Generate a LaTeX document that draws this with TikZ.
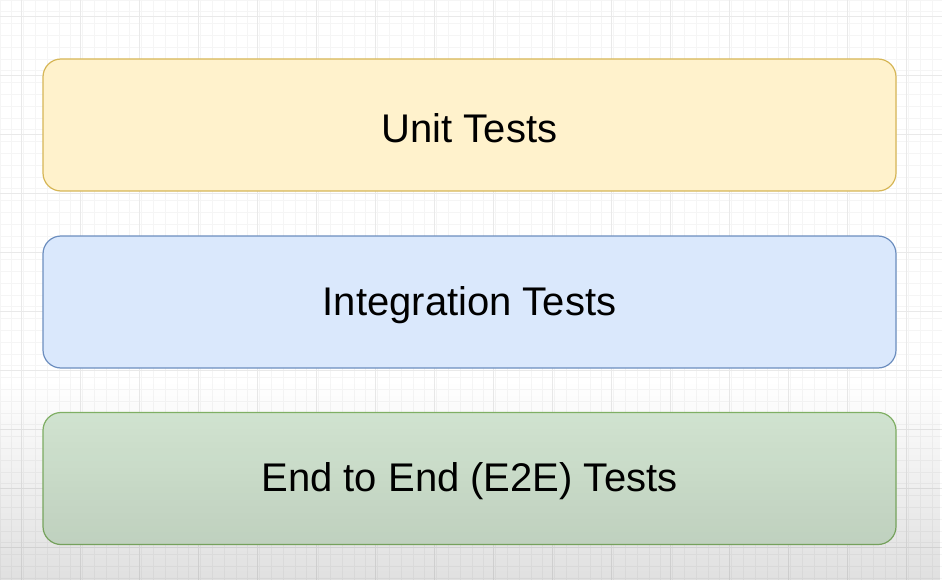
\documentclass[tikz,border=0pt]{standalone}
\usepackage{fontspec}
\setmainfont{Liberation Sans}
\usetikzlibrary{fadings}
\definecolor{unitfill}{HTML}{FFF2CC}
\definecolor{unitline}{HTML}{D6B656}
\definecolor{intfill}{HTML}{DAE8FC}
\definecolor{intline}{HTML}{6C8EBF}
\definecolor{e2efill}{HTML}{D5E8D4}
\definecolor{e2eline}{HTML}{82B366}
\definecolor{gridminor}{HTML}{F5F5F5}
\definecolor{gridmajor}{HTML}{E9E9E9}
\begin{document}
\begin{tikzpicture}[x=1pt,y=-1pt,
  layer/.style={draw=#1line, fill=#1fill, line width=1.2pt, rounded corners=18pt,
    minimum width=853pt, minimum height=132pt, anchor=center,
    font=\fontsize{40}{46}\selectfont, text=black},
  label shift/.style={yshift=-3pt}]
  \useasboundingbox (0,0) rectangle (942,580);
  \fill[white] (0,0) rectangle (942,580);
  % canvas grid
  \draw[gridminor, line width=0.7pt, step=11.8pt] (0,0) grid (942,580);
  \foreach \gx in {21,80,...,942} \draw[gridmajor, line width=0.7pt] (\gx,0) -- (\gx,580);
  \foreach \gy in {16,75,...,580} \draw[gridmajor, line width=0.7pt] (0,\gy) -- (942,\gy);
  % the three test layers
  \node[layer=unit] (unit) at (469.5,125) {};
  \node[label shift, font=\fontsize{40}{46}\selectfont] (unitlbl) at (unit.center) {Unit Tests};
  \node[layer=int]  (int)  at (469.5,302) {};
  \node[label shift, font=\fontsize{40}{46}\selectfont] (intlbl) at (int.center) {Integration Tests};
  \node[layer=e2e]  (e2e)  at (469.5,478.5) {};
  \node[label shift, font=\fontsize{40}{46}\selectfont] (e2elbl) at (e2e.center) {End to End (E2E) Tests};
  % soft shade toward the bottom edge
  \fill[black, fill opacity=0.12, path fading=north] (0,380) rectangle (942,580);
\end{tikzpicture}
\end{document}
